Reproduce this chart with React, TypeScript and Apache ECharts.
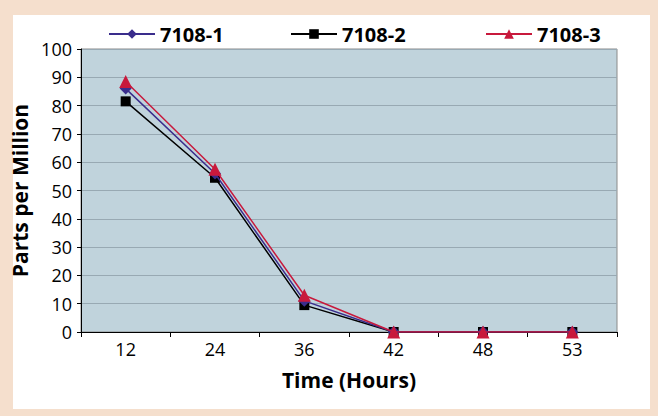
import React, { useEffect, useRef } from "react";
import * as echarts from "echarts";

const categories = ["12", "24", "36", "42", "48", "53"];
const series1 = [86, 56, 11, 0, 0, 0];
const series2 = [81.5, 54.5, 9.5, 0, 0, 0];
const series3 = [88.5, 57.5, 13, 0, 0, 0];
const seriesNames = ["7108-1", "7108-2", "7108-3"];
const seriesColors = ["#3a2d8c", "#000000", "#c8193c"];
const seriesSymbols = ["diamond", "rect", "triangle"];
const seriesSizes = [12, 10, 13];
const legendLefts = [103, 285, 480];

const FONT = "'Open Sans', 'DejaVu Sans', sans-serif";

export default function App() {
  const ref = useRef<HTMLDivElement>(null);
  useEffect(() => {
    if (!ref.current) return;
    const chart = echarts.init(ref.current, undefined, { renderer: "svg" });
    const data = [series1, series2, series3];
    chart.setOption({
      animation: false,
      backgroundColor: "#f5dfcd",
      textStyle: { fontFamily: FONT },
      graphic: [
        {
          type: "rect",
          z: -10,
          shape: { x: 13, y: 15, width: 637, height: 394 },
          style: { fill: "#ffffff" },
          silent: true,
        },
      ],
      legend: seriesNames.map((name, i) => ({
        data: [name],
        left: legendLefts[i],
        top: 19,
        itemWidth: 46,
        itemHeight: 12,
        itemGap: 5,
        textStyle: { fontFamily: FONT, fontWeight: "bold", fontSize: 20, color: "#000" },
      })),
      grid: {
        left: 81,
        right: 41,
        top: 49,
        bottom: 84,
        show: true,
        backgroundColor: "#c0d3dc",
        borderColor: "#8a8a8a",
        borderWidth: 1,
      },
      xAxis: {
        type: "category",
        data: categories,
        boundaryGap: true,
        name: "Time (Hours)",
        nameLocation: "middle",
        nameGap: 37,
        nameTextStyle: { fontFamily: FONT, fontWeight: "bold", fontSize: 21, color: "#000" },
        axisLine: { lineStyle: { color: "#000", width: 1 } },
        axisTick: { show: true, length: 5, lineStyle: { color: "#000" } },
        axisLabel: { fontFamily: FONT, fontSize: 18, color: "#000", margin: 8 },
        splitLine: { show: false },
      },
      yAxis: {
        type: "value",
        min: 0,
        max: 100,
        interval: 10,
        name: "Parts per Million",
        nameLocation: "middle",
        nameGap: 38,
        nameTextStyle: { fontFamily: FONT, fontWeight: "bold", fontSize: 21, color: "#000" },
        axisLine: { show: true, lineStyle: { color: "#000", width: 1 } },
        axisTick: { show: true, length: 4, lineStyle: { color: "#000" } },
        axisLabel: { fontFamily: FONT, fontSize: 18, color: "#000", margin: 9 },
        splitLine: { show: true, lineStyle: { color: "#98a9b3", width: 1 } },
      },
      series: seriesNames.map((name, i) => ({
        name,
        type: "line",
        data: data[i],
        symbol: seriesSymbols[i],
        symbolSize: seriesSizes[i],
        showAllSymbol: true,
        itemStyle: { color: seriesColors[i] },
        lineStyle: { color: seriesColors[i], width: 1.5 },
        z: 2 + (i === 0 ? 1 : i === 1 ? 0 : 2),
      })),
    });
    return () => chart.dispose();
  }, []);
  return (
    <div
      ref={ref}
      style={{ position: "fixed", left: 0, top: 0, width: 658, height: 416 }}
    />
  );
}
